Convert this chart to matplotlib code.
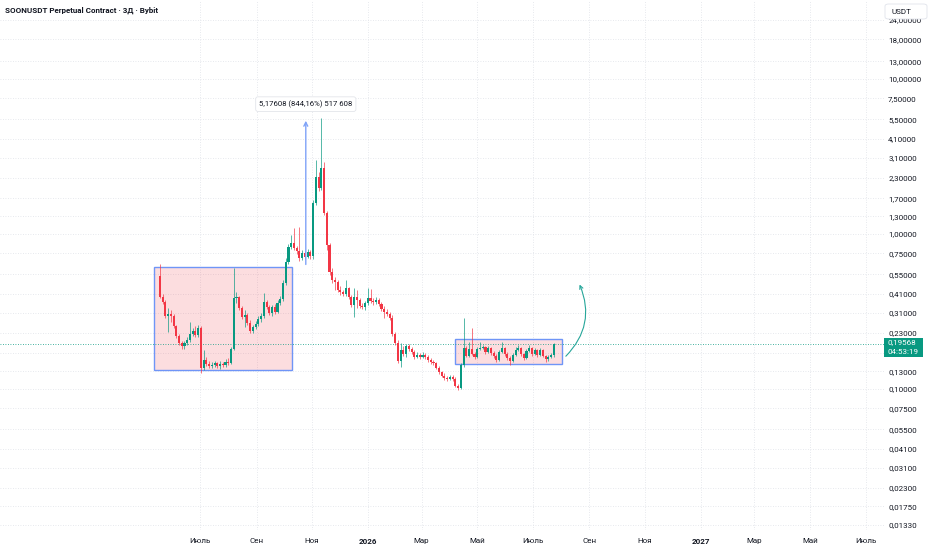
import numpy as np
import pandas as pd
import matplotlib
matplotlib.use("Agg")
import matplotlib.pyplot as plt
import matplotlib.dates as mdates
from matplotlib.patches import Rectangle, FancyArrowPatch, FancyBboxPatch
from matplotlib.ticker import NullLocator

plt.rcParams['font.family'] = ['Roboto', 'DejaVu Sans']

# SOONUSDT 3-day candles
start_date = "2025-05-18"
first_open = 0.5357
closes = [0.3922, 0.3641, 0.2957, 0.3046, 0.2957, 0.2549, 0.2197, 0.1981, 0.1894, 0.1981,
          0.2071, 0.2263, 0.2367, 0.2230, 0.2475, 0.1366, 0.1538, 0.1449, 0.1407, 0.1428,
          0.1471, 0.1407, 0.1449, 0.1428, 0.1493, 0.1471, 0.1812, 0.3864, 0.3922, 0.3331,
          0.2914, 0.3001, 0.2665, 0.2367, 0.2512, 0.2626, 0.2828, 0.2957, 0.3641, 0.3380,
          0.3092, 0.3380, 0.3138, 0.3587, 0.3807, 0.4829, 0.6597, 0.8243, 0.8748, 0.8122,
          0.7768, 0.7000, 0.7540, 0.7105, 0.7653, 0.7211, 1.585, 2.333, 1.980, 2.666,
          1.366, 0.8492, 0.5686, 0.5049, 0.4901, 0.4352, 0.4225, 0.4101, 0.4483, 0.3922,
          0.3482, 0.3922, 0.3751, 0.3431, 0.3380, 0.3587, 0.3864, 0.3696, 0.3641, 0.3751,
          0.3535, 0.3281, 0.3138, 0.3046, 0.2871, 0.2263, 0.1981, 0.1515, 0.1785, 0.1682,
          0.1894, 0.1812, 0.1733, 0.1609, 0.1657, 0.1609, 0.1657, 0.1609, 0.1538, 0.1493,
          0.1471, 0.1366, 0.1287, 0.1213, 0.1177, 0.1160, 0.1195, 0.1160, 0.1045, 0.1015,
          0.1428, 0.1839, 0.1633, 0.1812, 0.1682, 0.1609, 0.1812, 0.1839, 0.1866, 0.1733,
          0.1839, 0.1707, 0.1633, 0.1538, 0.1733, 0.1839, 0.1682, 0.1585, 0.1515, 0.1657,
          0.1785, 0.1839, 0.1682, 0.1585, 0.1759, 0.1839, 0.1682, 0.1785, 0.1657, 0.1785,
          0.1633, 0.1562, 0.1609, 0.1657, 0.19568]
highs = [0.6404, 0.4101, 0.3751, 0.3331, 0.3233, 0.3046, 0.2587, 0.2263, 0.2040, 0.2040,
         0.2165, 0.2705, 0.2475, 0.2549, 0.2587, 0.2549, 0.1785, 0.1609, 0.1515, 0.1493,
         0.1515, 0.1493, 0.1515, 0.1493, 0.1562, 0.1585, 0.1866, 0.6034, 0.4225, 0.3981,
         0.3431, 0.3233, 0.3092, 0.2787, 0.2587, 0.2746, 0.2957, 0.3092, 0.4162, 0.3751,
         0.3482, 0.3482, 0.3535, 0.3751, 0.3981, 0.5049, 0.7000, 0.8619, 0.9852, 1.093,
         0.8367, 1.109, 0.7884, 0.7768, 0.8002, 0.7884, 1.657, 3.002, 2.512, 5.60,
         2.914, 1.407, 0.8748, 0.6034, 0.5278, 0.5049, 0.4618, 0.4352, 0.5049, 0.4550,
         0.4040, 0.4483, 0.4352, 0.3864, 0.3587, 0.3696, 0.4483, 0.4417, 0.3864, 0.3922,
         0.3864, 0.3641, 0.3431, 0.3281, 0.3138, 0.3001, 0.2332, 0.2071, 0.1981, 0.1894,
         0.1951, 0.1951, 0.1866, 0.1785, 0.1733, 0.1707, 0.1733, 0.1707, 0.1657, 0.1585,
         0.1538, 0.1493, 0.1407, 0.1306, 0.1268, 0.1213, 0.1231, 0.1231, 0.1195, 0.1077,
         0.1471, 0.2871, 0.1894, 0.2010, 0.2475, 0.1733, 0.1866, 0.2010, 0.1923, 0.1894,
         0.1894, 0.1866, 0.1759, 0.1682, 0.1785, 0.2010, 0.1866, 0.1733, 0.1633, 0.1707,
         0.1866, 0.1923, 0.1866, 0.1707, 0.1812, 0.1923, 0.1866, 0.1839, 0.1812, 0.1839,
         0.1812, 0.1657, 0.1657, 0.1707, 0.1981]
lows = [0.3864, 0.3535, 0.2871, 0.2332, 0.2705, 0.2475, 0.2133, 0.1923, 0.1812, 0.1812,
        0.1923, 0.2010, 0.2197, 0.2165, 0.2165, 0.1268, 0.1326, 0.1407, 0.1366, 0.1366,
        0.1386, 0.1366, 0.1345, 0.1386, 0.1386, 0.1428, 0.1449, 0.1785, 0.3587, 0.3233,
        0.2828, 0.2512, 0.2587, 0.2297, 0.2297, 0.2438, 0.2549, 0.2705, 0.2871, 0.3281,
        0.3001, 0.2957, 0.3046, 0.3092, 0.3482, 0.3696, 0.4687, 0.6404, 0.8002, 0.7884,
        0.7429, 0.6696, 0.6796, 0.6897, 0.7000, 0.6897, 0.6897, 1.538, 1.894, 1.922,
        1.326, 0.7884, 0.5438, 0.4829, 0.4352, 0.4225, 0.4040, 0.3981, 0.3981, 0.3807,
        0.3380, 0.2914, 0.3331, 0.3331, 0.3281, 0.3233, 0.3482, 0.3587, 0.3482, 0.3535,
        0.3431, 0.3185, 0.2871, 0.2957, 0.2787, 0.2197, 0.1923, 0.1471, 0.1386, 0.1633,
        0.1609, 0.1759, 0.1682, 0.1562, 0.1585, 0.1562, 0.1585, 0.1562, 0.1493, 0.1449,
        0.1428, 0.1345, 0.1249, 0.1195, 0.1143, 0.1126, 0.1143, 0.1126, 0.1030, 0.0985,
        0.1000, 0.1386, 0.1609, 0.1609, 0.1657, 0.1562, 0.1585, 0.1785, 0.1812, 0.1682,
        0.1707, 0.1657, 0.1585, 0.1493, 0.1515, 0.1707, 0.1633, 0.1538, 0.1428, 0.1493,
        0.1633, 0.1759, 0.1633, 0.1538, 0.1562, 0.1733, 0.1633, 0.1657, 0.1609, 0.1633,
        0.1609, 0.1493, 0.1515, 0.1585, 0.1609]
opens = [first_open] + closes[:-1]

last_price = 0.19568
price_ticks = [24, 18, 13, 10, 7.5, 5.5, 4.1, 3.1, 2.3, 1.7, 1.3, 1.0, 0.75, 0.55, 0.41,
               0.31, 0.23, 0.17, 0.13, 0.10, 0.075, 0.055, 0.041, 0.031, 0.023, 0.0175, 0.0133]
month_ticks = ["2025-07-01", "2025-09-01", "2025-11-01", "2026-01-01", "2026-03-01", "2026-05-01",
               "2026-07-01", "2026-09-01", "2026-11-01", "2027-01-01", "2027-03-01", "2027-05-01",
               "2027-07-01"]
month_labels = ["Июль", "Сен", "Ноя", "2026", "Мар", "Май", "Июль", "Сен", "Ноя", "2027",
                "Мар", "Май", "Июль"]

# drawings on the chart
box1 = ("2025-05-12", "2025-10-10", 0.133, 0.612)
box2 = ("2026-04-07", "2026-08-02", 0.145, 0.210)
measure_date = "2025-10-25"
measure_from, measure_to = 0.61, 5.6
measure_text = "5,17608 (844,16%) 517 608"

UP = '#089981'
DOWN = '#f23645'
TXT = '#131722'

dates = mdates.date2num(pd.date_range(start_date, periods=len(closes), freq='3D'))
o = np.array(opens); c = np.array(closes); h = np.array(highs); l = np.array(lows)
cols = [UP if cc >= oo else DOWN for oo, cc in zip(o, c)]

fig = plt.figure(figsize=(9.32, 5.5), dpi=100)
W, H = 932, 550
ax = fig.add_axes([0, 20 / H, 884 / W, 530 / H])
ax.set_yscale('log')

# wicks and bodies
ax.vlines(dates, l, h, colors=cols, linewidth=0.6, alpha=0.8, zorder=3)
bottoms = np.minimum(o, c)
heights = np.maximum(np.abs(c - o), bottoms * 0.008)
ax.bar(dates, heights, bottom=bottoms, width=2.3, color=cols, linewidth=0, zorder=4)

# boxes
for d0, d1, lo, hi in (box1, box2):
    x0 = mdates.datestr2num(d0); x1 = mdates.datestr2num(d1)
    ax.add_patch(Rectangle((x0, lo), x1 - x0, hi - lo, facecolor='#f23645', alpha=0.17,
                           edgecolor='none', zorder=1))
    ax.add_patch(Rectangle((x0, lo), x1 - x0, hi - lo, facecolor='none',
                           edgecolor='#6f95f7', linewidth=1.0, zorder=2))

# measure arrow
mx = mdates.datestr2num(measure_date)
ax.annotate('', xy=(mx, measure_to), xytext=(mx, measure_from),
            arrowprops=dict(arrowstyle='->', color='#7fa3f8', lw=1.0, mutation_scale=7),
            zorder=5)
ax.text(mx, measure_to * 1.16, measure_text, ha='center', va='bottom', fontsize=5.6,
        color=TXT, zorder=6,
        bbox=dict(boxstyle='round,pad=0.45,rounding_size=0.3', fc='white', ec='#e3e5ea', lw=0.6))

# curved arrow after the range
arr = FancyArrowPatch((mdates.datestr2num("2026-08-04"), 0.158),
                      (mdates.datestr2num("2026-08-20"), 0.49),
                      connectionstyle="arc3,rad=0.35", arrowstyle='->', mutation_scale=6,
                      color='#26a69a', lw=0.8, zorder=5)
ax.add_patch(arr)

# last price line
ax.axhline(last_price, color=UP, linestyle=(0, (1, 2)), linewidth=0.6, zorder=2)

# axes styling
x_left = mdates.datestr2num("2025-07-01") - 200 / 0.912
x_right = mdates.datestr2num("2025-07-01") + 684 / 0.912
ax.set_xlim(x_left, x_right)
ax.set_ylim(0.01231, 32.3)
for s in ax.spines.values():
    s.set_visible(False)

ax.yaxis.tick_right()
ax.set_yticks(price_ticks)
ax.yaxis.set_minor_locator(NullLocator())
ax.set_yticklabels(['' if t == 0.17 else f"{t:.5f}".replace('.', ',') for t in price_ticks])
ax.tick_params(axis='y', length=0, pad=3, labelsize=5.8, labelcolor=TXT)

ax.set_xticks(mdates.datestr2num(month_ticks))
ax.set_xticklabels(month_labels)
ax.tick_params(axis='x', length=0, pad=6, labelsize=5.8, labelcolor=TXT)
for lab in ax.get_xticklabels():
    if lab.get_text().isdigit():
        lab.set_fontweight('bold')

ax.grid(True, color='#dfe2e8', linestyle=(0, (1, 2)), linewidth=0.6, zorder=0)
ax.set_axisbelow(True)

# price label on the axis
fig.patches.append(Rectangle((884 / W, 1 - 357 / H), 39 / W, 19 / H, transform=fig.transFigure,
                             facecolor=UP, edgecolor='none', zorder=5))
fig.text(888 / W, 1 - 342.5 / H, "0,19568", color='white', fontsize=5.8, va='center', zorder=6)
fig.text(888 / W, 1 - 352.5 / H, "04:53:19", color='white', fontsize=5.8, va='center', zorder=6)

# currency tag
fig.patches.append(FancyBboxPatch((885 / W, 1 - 19 / H), 42 / W, 15 / H, transform=fig.transFigure,
                                  boxstyle='round,pad=0,rounding_size=0.004', facecolor='white',
                                  edgecolor='#e0e3eb', linewidth=0.6, zorder=5))
fig.text(891 / W, 1 - 11.5 / H, "USDT", color=TXT, fontsize=5.8, va='center', zorder=6)

# title
fig.text(5 / W, 1 - 10 / H, "SOONUSDT Perpetual Contract · 3Д · Bybit", color=TXT,
         fontsize=5.8, fontweight='bold', va='center')

fig.savefig('out.png', dpi=100)
